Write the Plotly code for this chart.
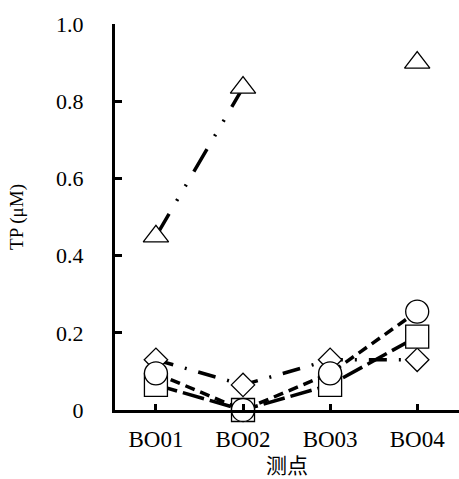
import plotly.graph_objects as go

# Sampling sites and total phosphorus (µM) for the four profiles
sites = ["BO01", "BO02", "BO03", "BO04"]
tp_triangle = [0.45, 0.835, None, 0.90]
tp_diamond = [0.13, 0.065, 0.13, 0.13]
tp_square = [0.065, 0.0, 0.065, 0.19]
tp_circle = [0.095, 0.0, 0.095, 0.255]

y_ticks = [0, 0.2, 0.4, 0.6, 0.8, 1.0]
y_tick_labels = ["0", "0.2", "0.4", "0.6", "0.8", "1.0"]

serif = "Liberation Serif, Times New Roman, serif"

series = [
    (tp_triangle, "triangle-up", 22, "26px,15px,2px,15px,2px,15px"),
    (tp_diamond, "diamond", 18, "18px,12px,2px,12px"),
    (tp_square, "square", 23, "22px,6px"),
    (tp_circle, "circle", 23, "10px,6px"),
]

fig = go.Figure()
for vals, sym, size, dash in series:
    fig.add_trace(go.Scatter(
        x=sites, y=vals, mode="lines+markers",
        line=dict(color="black", width=3.5, dash=dash),
        marker=dict(symbol=sym, size=size, color="white",
                    line=dict(color="black", width=1.3)),
        cliponaxis=False, connectgaps=False, showlegend=False,
    ))

fig.update_layout(
    width=459, height=479,
    margin=dict(l=115, r=0, t=24, b=69),
    plot_bgcolor="white", paper_bgcolor="white",
    font=dict(family=serif, size=22, color="black"),
)
fig.update_xaxes(
    type="category", range=[-0.47, 3.48],
    showline=True, linecolor="black", linewidth=3,
    ticks="inside", ticklen=6, tickwidth=3, tickcolor="black",
    ticklabelstandoff=6,
    showgrid=False, zeroline=False,
    tickfont=dict(family=serif, size=23, color="black"),
    title=dict(text="测点", font=dict(family="Noto Sans CJK SC", size=21, color="black"), standoff=0),
)
fig.update_yaxes(
    range=[0, 1], tickvals=y_ticks, ticktext=y_tick_labels,
    showline=True, linecolor="black", linewidth=3,
    ticks="inside", ticklen=7, tickwidth=3, tickcolor="black",
    ticklabelstandoff=24,
    showgrid=False, zeroline=False,
    tickfont=dict(family=serif, size=22, color="black"),
    title=dict(text="TP (μM)", font=dict(family=serif, size=19, color="black"), standoff=28),
)

fig.write_html("out.html")
